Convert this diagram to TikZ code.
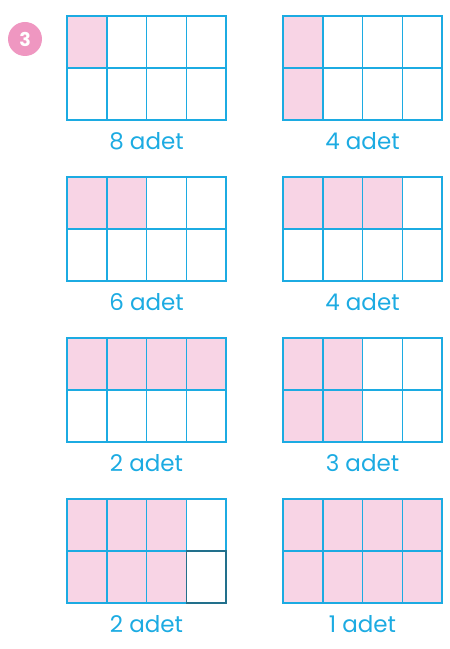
\documentclass[tikz,border=0pt]{standalone}
\usepackage{fontspec}
\setmainfont{Poppins}
\usepackage{xcolor}
\definecolor{gridblue}{HTML}{1CABE2}
\definecolor{darkblue}{HTML}{22708C}
\definecolor{cellpink}{HTML}{F8D4E5}
\definecolor{badgepink}{HTML}{EF97C1}
\usepackage{tikz}

\begin{document}
\begin{tikzpicture}[x=1pt, y=1pt,
  gridline/.style={line width=1.5pt, gridblue, xstep=39.75pt, ystep=52pt},
  shade/.style={fill=cellpink},
  lbl/.style={font=\fontsize{23}{23}\selectfont, text=gridblue}]

  \useasboundingbox (0,0) rectangle (450,649);

  % soru numarasi
  \node[circle, fill=badgepink, minimum size=34pt, inner sep=0pt,
    font=\bfseries\fontsize{19}{19}\selectfont, text=white] (num) at (25,610) {3};

  % 1. satir
  \begin{scope}[xshift=67pt, yshift=529pt, x=39.75pt, y=52pt]
    \fill[shade] (0,1) rectangle (1,2);
    \draw[gridline] (0,0) grid (4,2) rectangle (0,0);
    \node[lbl] (lblA) at (2,-0.4) {8 adet};
  \end{scope}
  \begin{scope}[xshift=283pt, yshift=529pt, x=39.75pt, y=52pt]
    \fill[shade] (0,0) rectangle (1,2);
    \draw[gridline] (0,0) grid (4,2) rectangle (0,0);
    \node[lbl] (lblB) at (2,-0.4) {4 adet};
  \end{scope}

  % 2. satir
  \begin{scope}[xshift=67pt, yshift=368pt, x=39.75pt, y=52pt]
    \fill[shade] (0,1) rectangle (2,2);
    \draw[gridline] (0,0) grid (4,2) rectangle (0,0);
    \node[lbl] (lblC) at (2,-0.4) {6 adet};
  \end{scope}
  \begin{scope}[xshift=283pt, yshift=368pt, x=39.75pt, y=52pt]
    \fill[shade] (0,1) rectangle (3,2);
    \draw[gridline] (0,0) grid (4,2) rectangle (0,0);
    \node[lbl] (lblD) at (2,-0.4) {4 adet};
  \end{scope}

  % 3. satir
  \begin{scope}[xshift=67pt, yshift=207pt, x=39.75pt, y=52pt]
    \fill[shade] (0,1) rectangle (4,2);
    \draw[gridline] (0,0) grid (4,2) rectangle (0,0);
    \node[lbl] (lblE) at (2,-0.4) {2 adet};
  \end{scope}
  \begin{scope}[xshift=283pt, yshift=207pt, x=39.75pt, y=52pt]
    \fill[shade] (0,0) rectangle (2,2);
    \draw[gridline] (0,0) grid (4,2) rectangle (0,0);
    \node[lbl] (lblF) at (2,-0.4) {3 adet};
  \end{scope}

  % 4. satir
  \begin{scope}[xshift=67pt, yshift=46pt, x=39.75pt, y=52pt]
    \fill[shade] (0,0) rectangle (3,2);
    \draw[gridline] (0,0) grid (4,2) rectangle (0,0);
    \draw[line width=1.5pt, darkblue] (3,0) rectangle (4,1);
    \node[lbl] (lblG) at (2,-0.4) {2 adet};
  \end{scope}
  \begin{scope}[xshift=283pt, yshift=46pt, x=39.75pt, y=52pt]
    \fill[shade] (0,0) rectangle (4,2);
    \draw[gridline] (0,0) grid (4,2) rectangle (0,0);
    \node[lbl] (lblH) at (2,-0.4) {1 adet};
  \end{scope}

\end{tikzpicture}
\end{document}
